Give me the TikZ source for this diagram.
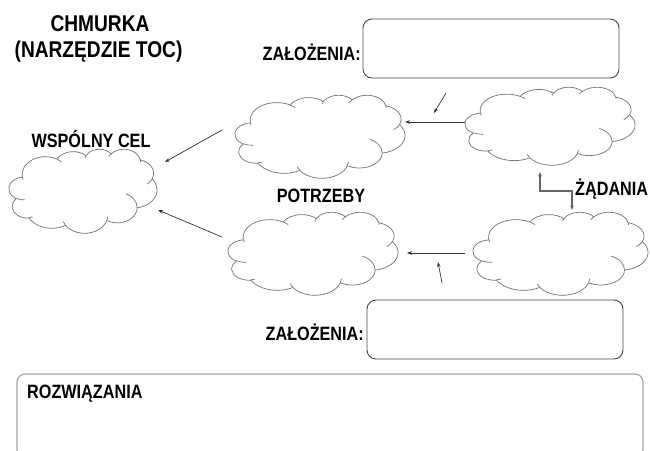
\documentclass[tikz,border=0pt]{standalone}
\usepackage{fontspec}
\setmainfont{Liberation Sans}[FakeStretch=0.84]
\usetikzlibrary{arrows.meta}
% Office-style cloud arcs (visual angles -> parametric angles)
\newcommand\defarc[5]{%
  \pgfmathsetmacro\tmpS{atan2(#2*sin(#4),#3*cos(#4))}%
  \pgfmathsetmacro\tmpE{atan2(#2*sin(#4+#5),#3*cos(#4+#5))}%
  \pgfmathsetmacro\tmpD{\tmpE-(\tmpS)}%
  \pgfmathsetmacro\tmpD{(#5>0)*(\tmpD<0)*360-(#5<0)*(\tmpD>0)*360+\tmpD}%
  \expandafter\xdef\csname cloudarc#1\endcsname{arc[start angle=\tmpS, delta angle=\tmpD, x radius=#2, y radius=#3]}%
}
\defarc{a}{6.753}{9.190}{-190.4875}{123.7805}
\defarc{b}{5.333}{7.267}{-144.1024}{89.9452}
\defarc{c}{4.365}{5.945}{-145.8079}{99.7230}
\defarc{d}{4.857}{6.595}{-130.9861}{117.2417}
\defarc{e}{5.333}{7.273}{-78.7089}{109.0269}
\defarc{f}{6.775}{9.220}{-46.2673}{130.2690}
\defarc{g}{5.785}{7.867}{0.6250}{114.0333}
\defarc{h}{6.752}{9.215}{22.4516}{115.1726}
\defarc{i}{7.720}{10.543}{66.2426}{75.7110}
\defarc{j}{4.360}{5.918}{-274.9421}{146.7356}
\defarc{k}{4.345}{5.945}{-246.8285}{152.5189}
\defarc{A}{4.345}{5.945}{86.7420}{26.4295}
\defarc{B}{4.360}{5.918}{73.6105}{11.4475}
\defarc{C}{6.752}{9.215}{137.6242}{14.0811}
\defarc{D}{6.752}{9.215}{6.4533}{15.9984}
\defarc{E}{5.785}{7.867}{-70.2924}{70.9174}
\defarc{F}{5.333}{7.273}{30.3180}{27.7515}
\defarc{G}{4.857}{6.595}{-13.7443}{14.8512}
\defarc{H}{4.857}{6.595}{-149.1815}{18.1959}
\defarc{I}{4.365}{5.945}{-163.4943}{17.6843}
\defarc{J}{6.753}{9.190}{-66.7070}{12.3194}
\defarc{K}{6.753}{9.190}{157.6544}{11.8582}
\def\cloudouter{(3.900,14.370) \cloudarca \cloudarcb \cloudarcc \cloudarcd \cloudarce \cloudarcf \cloudarcg \cloudarch \cloudarci \cloudarcj \cloudarck -- cycle}
\def\cloudinner{(4.693,26.177) \cloudarcA (6.928,34.899) \cloudarcB (16.478,39.090) \cloudarcC (28.827,34.751) \cloudarcD (34.129,22.954) \cloudarcE (41.798,15.354) \cloudarcF (38.324,5.426) \cloudarcG (29.078,3.952) \cloudarcH (22.141,4.720) \cloudarcI (14.000,5.192) \cloudarcJ (4.127,15.789) \cloudarcK}
% name, left, top, width, height
\newcommand\mycloud[5]{%
  \node[inner sep=0, outer sep=0, minimum width=#4, minimum height=#5, anchor=north west] (#1) at (#2,#3) {};
  \pgfmathsetmacro\cwu{#4/43.2}\pgfmathsetmacro\chu{#5/43.2}%
  \begin{scope}[shift={(#2,#3)}, x=\cwu pt, y=-\chu pt]
    \draw[cloudline, fill=white] \cloudouter;
    \draw[cloudline] \cloudinner;
  \end{scope}}
\begin{document}
\begin{tikzpicture}[x=1pt, y=-1pt,
  cloudline/.style={draw=black!55, line width=0.7pt, line join=round},
  lab/.style={font=\bfseries\fontsize{19.3}{22}\selectfont, text=black, inner sep=0},
  ttl/.style={font=\bfseries\fontsize{22.8}{26}\selectfont, text=black, inner sep=0},
  rbox/.style={draw=black!72, line width=0.9pt, rounded corners=9pt, inner sep=0, outer sep=0, anchor=north west},
  sbox/.style={draw=black!35, line width=1.2pt, rounded corners=8pt, inner sep=0, outer sep=0, anchor=north west},
  arr/.style={draw=black!80, line width=0.7pt, -{Stealth[length=5pt,width=3.6pt]}},
  elb/.style={draw=black!60, line width=1.2pt, {Stealth[length=4.5pt,width=3.6pt]}-{Stealth[length=4.5pt,width=3.6pt]}}]
\useasboundingbox (0,0) rectangle (650,450);
\fill[white] (0,0) rectangle (650,450);
\begin{scope}
\clip (0,0) rectangle (650,450);
% titles
\node[ttl, anchor=base] (t1) at (100,31) {CHMURKA};
\node[ttl, anchor=base] (t2) at (98.5,57) {(NARZĘDZIE TOC)};
% boxes
\node[rbox, minimum width=256, minimum height=59] (zt) at (363,19) {};
\node[lab, anchor=base east] (zlt) at (361,60) {ZAŁOŻENIA:};
\node[rbox, minimum width=256, minimum height=59] (zb) at (367,300) {};
\node[lab, anchor=base east] (zlb) at (364,340) {ZAŁOŻENIA:};
\node[sbox, minimum width=626, minimum height=84] (sol) at (17,374) {};
\node[lab, anchor=base west] (soll) at (27,398) {ROZWIĄZANIA};
% clouds
\mycloud{cA}{9}{149}{148}{84}
\mycloud{cB}{235}{95}{170}{83}
\mycloud{cC}{465}{87}{170}{78}
\mycloud{cD}{473}{212}{175}{83}
\mycloud{cE}{228}{212}{170}{83}
% labels
\node[lab, anchor=base] (wc) at (91,147) {WSPÓLNY CEL};
\node[lab, anchor=base] (pot) at (321,202) {POTRZEBY};
\node[lab, anchor=base west] (zad) at (575,195) {ŻĄDANIA};
% connectors
\coordinate (b1) at (222,130); \coordinate (a1) at (165,162);
\coordinate (e1) at (222,237); \coordinate (a2) at (158,210);
\coordinate (c1) at (465,122); \coordinate (b2) at (405,122);
\coordinate (d1) at (465,253); \coordinate (e2) at (407,253);
\coordinate (zt1) at (446,93); \coordinate (zt2) at (434,113);
\coordinate (zb1) at (442,283); \coordinate (zb2) at (438,262);
\coordinate (c2) at (540,172); \coordinate (d2) at (572,210);
\draw[arr] (b1) -- (a1);
\draw[arr] (e1) -- (a2);
\draw[arr] (c1) -- (b2);
\draw[arr] (d1) -- (e2);
\draw[arr] (zt1) -- (zt2);
\draw[arr] (zb1) -- (zb2);
\draw[elb] (c2) -- (540,191) -- (572,191) -- (d2);
\end{scope}
\end{tikzpicture}
\end{document}
